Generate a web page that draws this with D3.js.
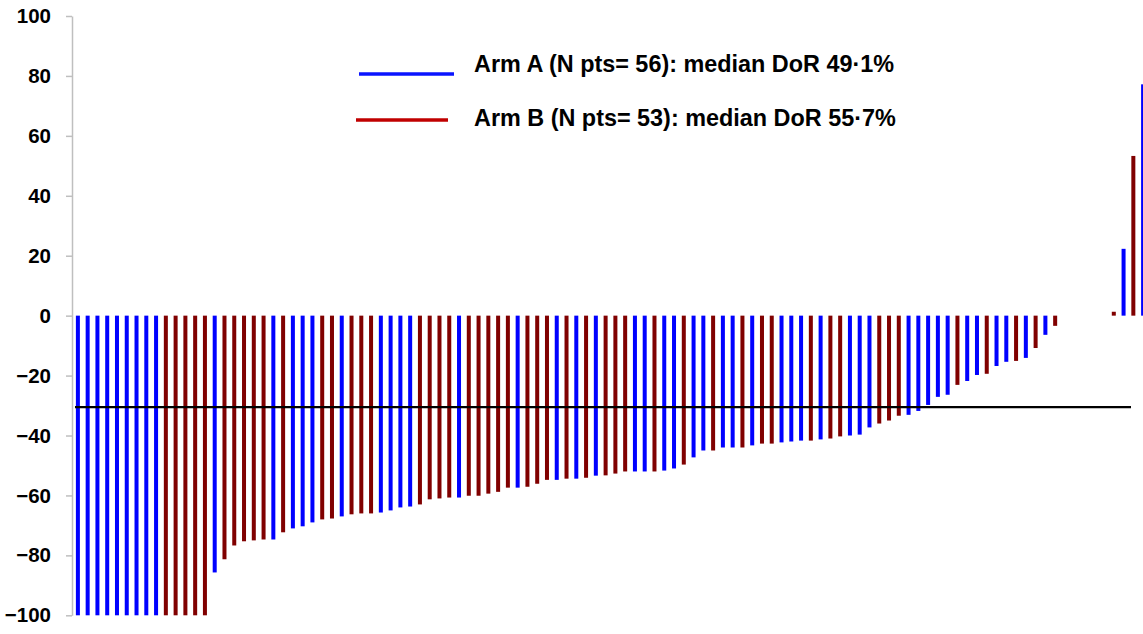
<!DOCTYPE html>
<html>
<head>
<meta charset="utf-8">
<script src="https://cdn.jsdelivr.net/npm/d3@7"></script>
<style>
  html, body { margin: 0; padding: 0; background: #fff; }
  svg text { font-family: "Liberation Sans", Arial, sans-serif; font-weight: bold; fill: #000; }
</style>
</head>
<body>
<div id="chart"></div>
<script>
// best % change from baseline, one bar per patient, sorted (waterfall)
const change = [
  -100, -100, -100, -100, -100, -100, -100, -100, -100, -100,
  -100, -100, -100, -100, -85.7, -81.3, -76.7, -75.3, -75, -74.7,
  -74.7, -72.3, -71, -70.3, -69, -68, -67.7, -67, -66.3, -66,
  -66, -65.7, -65, -64, -63.7, -63, -61.3, -61, -60.7, -60.7,
  -60.1, -60.1, -59.4, -58.8, -57.4, -57.4, -57.1, -56.1, -54.8, -54.8,
  -54.4, -54.4, -54.1, -53.4, -53.3, -52.7, -52, -52, -52, -52,
  -51.7, -51, -49.7, -47.3, -45, -45, -44, -44, -44, -43.3,
  -42.7, -42.7, -42.3, -42, -41.7, -41.7, -41.3, -41, -40.3, -40,
  -39.7, -37.3, -36, -35, -33.4, -33.1, -31.8, -29.8, -27.1, -26.4,
  -23.1, -21.8, -19.8, -19.4, -16.8, -15.4, -15.1, -14.1, -10.8, -6.4,
  -3.4, 0, 0, 0, 0, 0, 1.3, 22.3, 53.3, 77.2
];
const arm = [
  "A", "A", "A", "A", "A", "A", "A", "A", "A", "B",
  "B", "B", "B", "B", "A", "B", "B", "B", "B", "B",
  "A", "B", "A", "A", "A", "B", "B", "A", "B", "B",
  "B", "A", "A", "A", "A", "B", "B", "B", "B", "A",
  "B", "B", "B", "B", "B", "A", "B", "B", "B", "A",
  "B", "A", "B", "A", "B", "B", "B", "A", "A", "B",
  "A", "A", "B", "A", "A", "B", "A", "A", "B", "A",
  "B", "B", "A", "A", "A", "B", "A", "B", "B", "A",
  "A", "A", "B", "B", "B", "A", "A", "A", "A", "A",
  "B", "A", "A", "B", "A", "A", "B", "A", "B", "A",
  "B", "A", "A", "A", "B", "B", "B", "A", "B", "A"
];
const yTicks = [100, 80, 60, 40, 20, 0, -20, -40, -60, -80, -100];
const threshold = -30.5;
const legendLabels = [
  "Arm A (N pts= 56): median DoR 49·1%",
  "Arm B (N pts= 53): median DoR 55·7%"
];

const width = 1143, height = 634;
const barColor = { A: "#0000ff", B: "#800000" };
const legendColor = ["#0a14ff", "#c00000"];

const svg = d3.select("#chart").append("svg")
  .attr("width", width)
  .attr("height", height);

//scales
const x = d3.scaleBand()
  .domain(d3.range(change.length))
  .range([73, 1148])
  .paddingInner(0.59)
  .paddingOuter(0.295);

const y = d3.scaleLinear()
  .domain([-100, 100])
  .range([615.3, 16]);

//bars
svg.append("g")
  .selectAll("rect")
  .data(change)
  .join("rect")
  .attr("x", (d, i) => x(i))
  .attr("width", x.bandwidth())
  .attr("y", d => Math.min(y(d), y(0)))
  .attr("height", d => Math.abs(y(d) - y(0)))
  .attr("fill", (d, i) => barColor[arm[i]]);

//y axis
const axis = svg.append("g")
  .attr("transform", "translate(72,0)")
  .call(d3.axisLeft(y).tickValues(yTicks).tickSize(6).tickSizeOuter(0).tickPadding(15));
axis.select(".domain").attr("stroke", "#bfbfbf").attr("stroke-width", 1.5);
axis.selectAll(".tick line").attr("stroke", "#bfbfbf").attr("stroke-width", 1.5);
axis.selectAll(".tick text")
  .attr("font-size", 20.5)
  .attr("font-family", "Liberation Sans, Arial, sans-serif")
  .attr("font-weight", "bold")
  .attr("fill", "#000");

//threshold line
svg.append("line")
  .attr("x1", 75)
  .attr("x2", 1131)
  .attr("y1", y(threshold))
  .attr("y2", y(threshold))
  .attr("stroke", "#000")
  .attr("stroke-width", 2.2);

//legend
const legendY = [74, 120];
const legendTextY = [72, 126];
const legendX = [[359, 454], [356, 448]];
legendLabels.forEach((label, i) => {
  svg.append("line")
    .attr("x1", legendX[i][0])
    .attr("x2", legendX[i][1])
    .attr("y1", legendY[i])
    .attr("y2", legendY[i])
    .attr("stroke", legendColor[i])
    .attr("stroke-width", 3.5);
  svg.append("text")
    .attr("x", 474)
    .attr("y", legendTextY[i])
    .attr("font-size", 23.4)
    .text(label);
});
</script>
</body>
</html>
